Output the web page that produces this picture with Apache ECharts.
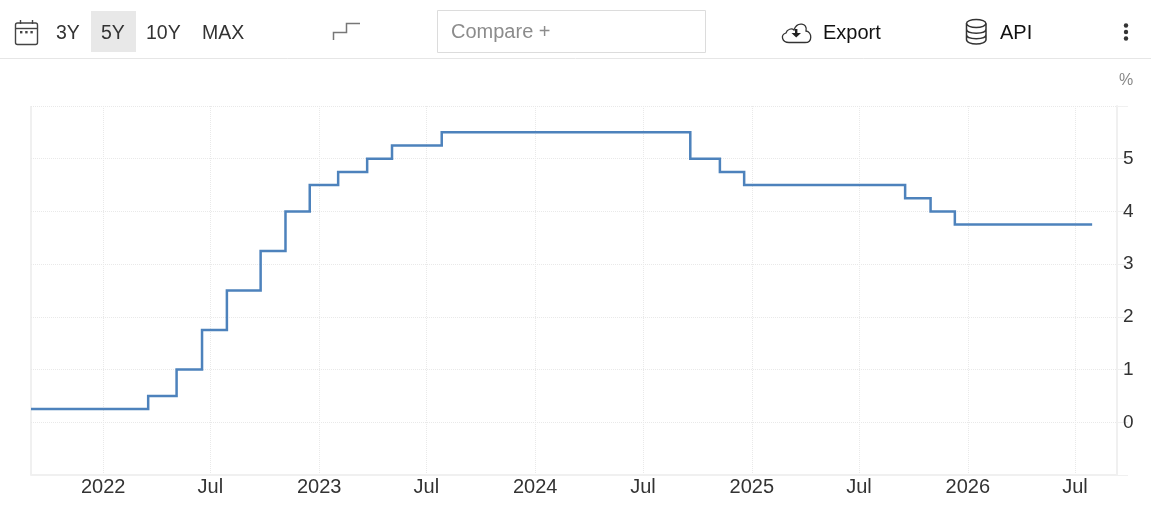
<!DOCTYPE html>
<html><head><meta charset="utf-8">
<style>html,body{margin:0;padding:0;background:#fff}#c{width:1151px;height:508px}</style>
<script src="https://cdn.jsdelivr.net/npm/echarts@6/dist/echarts.min.js"></script>
</head><body><div id="c"></div>
<script>
const stepDates = ['2021-09-01','2022-03-18','2022-05-05','2022-06-17','2022-07-29','2022-09-24','2022-11-05','2022-12-16','2023-02-02','2023-03-23','2023-05-04','2023-07-27','2024-09-19','2024-11-08','2024-12-19','2025-09-17','2025-10-30','2025-12-10','2026-07-30'];
const rates = [0.25,0.5,1,1.75,2.5,3.25,4,4.5,4.75,5,5.25,5.5,5,4.75,4.5,4.25,4,3.75,3.75];
const tickDates = ['2022-01-01','2022-07-01','2023-01-01','2023-07-01','2024-01-01','2024-07-01','2025-01-01','2025-07-01','2026-01-01','2026-07-01'];
const tickLabels = ['2022','Jul','2023','Jul','2024','Jul','2025','Jul','2026','Jul'];
const yTicks = [-1,0,1,2,3,4,5,6];
const rangeButtons = ['3Y','5Y','10Y','MAX'];

const FONT = '"Liberation Sans", Arial, sans-serif';
const t = s => new Date(s + 'T00:00:00Z').getTime();
const tickTimes = tickDates.map(t);
const txt = (x, y, text, size, fill, align) => ({type:'text', silent:true, x, y, style:{text, font:size+'px '+FONT, fill, align:align||'left', verticalAlign:'middle'}});
const stroke = (c, w) => ({stroke:c, lineWidth:w, fill:null});

echarts.graphic.registerShape('cloudIcon', echarts.graphic.extendPath('M789 42.5 C782 42.5 780 35 786 33 C787 29 792 28 794 30 C797 21 808 23 806 31 C812 32 813 42.5 805 42.5 Z'));
echarts.graphic.registerShape('dbIcon', echarts.graphic.extendPath('M966.5 23.5 V39.5 C966.5 45.5 986 45.5 986 39.5 V23.5 M966.5 29 C966.5 34.5 986 34.5 986 29 M966.5 34.5 C966.5 40 986 40 986 34.5'));

const chart = echarts.init(document.getElementById('c'), null, {renderer:'canvas'});
chart.setOption({
  animation:false,
  backgroundColor:'#fff',
  grid:{left:31, right:34, top:106, height:369, containLabel:false},
  xAxis:{
    type:'value',
    scale:true,
    min:t('2021-09-01'), max:t('2026-09-10'),
    axisLine:{show:true, onZero:false, lineStyle:{color:'#f0f0f0', width:2}},
    axisTick:{show:false, customValues:tickTimes},
    splitLine:{show:true, lineStyle:{color:'#e9e9e9', type:'dotted', width:1}},
    axisLabel:{
      customValues:tickTimes,
      formatter:v => tickLabels[tickTimes.indexOf(v)] ?? '',
      color:'#333', fontSize:20, fontFamily:FONT, margin:2.5, hideOverlap:false
    }
  },
  yAxis:{
    type:'value', position:'right', min:yTicks[0], max:yTicks[yTicks.length-1], interval:1,
    axisLine:{show:true, lineStyle:{color:'#f0f0f0', width:2}},
    axisTick:{show:true, length:11, lineStyle:{color:'#f0f0f0', width:1}},
    splitLine:{show:true, lineStyle:{color:'#e9e9e9', type:'dotted', width:1}},
    axisLabel:{
      color:'#333', fontSize:19, fontFamily:FONT, margin:6, padding:[0,0,11,0],
      formatter:v => (v<0||v>5) ? '' : String(v)
    }
  },
  series:[{
    type:'line', step:'end', showSymbol:false, symbol:'none', clip:false,
    lineStyle:{color:'#4d82bc', width:2.5, join:'miter'},
    data: stepDates.map((d,i)=>[t(d), rates[i]])
  }],
  graphic:[
    {type:'line', silent:true, shape:{x1:0,y1:58.5,x2:1151,y2:58.5}, style:stroke('#e6e6e6',1)},
    {type:'line', silent:true, shape:{x1:31,y1:106,x2:31,y2:475}, style:stroke('#f0f0f0',2)},
    {type:'rect', silent:true, shape:{x:91,y:11,width:45,height:41}, style:{fill:'#e8e8e8'}},
    txt(56,33.5,rangeButtons[0],19.5,'#333'),
    txt(101,33.5,rangeButtons[1],19.5,'#333'),
    txt(146,33.5,rangeButtons[2],19.5,'#333'),
    txt(202,33.5,rangeButtons[3],19.5,'#333'),
    {type:'rect', silent:true, shape:{x:15.5,y:23,width:22,height:21.5,r:2}, style:stroke('#444',1.4)},
    {type:'line', silent:true, shape:{x1:16,y1:28.5,x2:37,y2:28.5}, style:stroke('#444',1.4)},
    {type:'line', silent:true, shape:{x1:20.5,y1:20,x2:20.5,y2:24}, style:stroke('#444',1.4)},
    {type:'line', silent:true, shape:{x1:32.5,y1:20,x2:32.5,y2:24}, style:stroke('#444',1.4)},
    {type:'rect', silent:true, shape:{x:20,y:31,width:2.4,height:2.4}, style:{fill:'#444'}},
    {type:'rect', silent:true, shape:{x:25.2,y:31,width:2.4,height:2.4}, style:{fill:'#444'}},
    {type:'rect', silent:true, shape:{x:30.4,y:31,width:2.4,height:2.4}, style:{fill:'#444'}},
    {type:'polyline', silent:true, shape:{points:[[333.5,40],[333.5,32.5],[346.5,32.5],[346.5,23.5],[360,23.5]]}, style:stroke('#777',1.5)},
    {type:'rect', silent:true, shape:{x:437.5,y:10.5,width:268,height:42}, style:{fill:'#fff',stroke:'#dcdcdc',lineWidth:1}},
    txt(451,32,'Compare +',20,'#8c8c8c'),
    {type:'cloudIcon', silent:true, style:stroke('#333',1.3)},
    {type:'polygon', silent:true, shape:{points:[[791.5,33],[801,33],[796.2,37.5]]}, style:{fill:'#222'}},
    {type:'rect', silent:true, shape:{x:795,y:29,width:2.4,height:5}, style:{fill:'#222'}},
    txt(823,33,'Export',20,'#111'),
    {type:'ellipse', silent:true, shape:{cx:976.2,cy:23.5,rx:9.7,ry:4}, style:stroke('#333',1.5)},
    {type:'dbIcon', silent:true, style:stroke('#333',1.5)},
    txt(1000,33,'API',20,'#111'),
    {type:'circle', silent:true, shape:{cx:1126,cy:25.5,r:2.2}, style:{fill:'#333'}},
    {type:'circle', silent:true, shape:{cx:1126,cy:32,r:2.2}, style:{fill:'#333'}},
    {type:'circle', silent:true, shape:{cx:1126,cy:38.5,r:2.2}, style:{fill:'#333'}},
    txt(1126,80.5,'%',16,'#888','center')
  ]
});
</script></body></html>
